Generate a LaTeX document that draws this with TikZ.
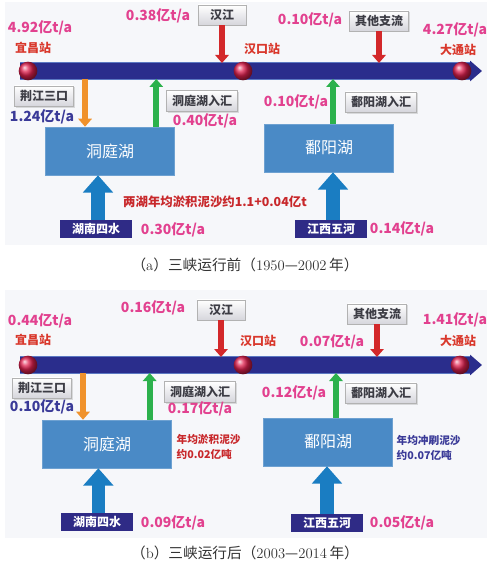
\documentclass[tikz,border=0pt]{standalone}
\usepackage{fontspec}
\usetikzlibrary{arrows.meta,calc,shadows}
\newfontfamily\cjk{Noto Sans CJK SC}
\definecolor{cPink}{HTML}{E2418F}
\definecolor{cStn}{HTML}{D9382C}
\definecolor{cBar}{HTML}{2A2D8C}
\definecolor{cBarEdge}{HTML}{5B78C2}
\definecolor{cLake}{HTML}{4A8AC6}
\definecolor{cSrc}{HTML}{2F2B86}
\definecolor{cNavyTxt}{HTML}{3A3A98}
\definecolor{cRedArr}{HTML}{D3282A}
\definecolor{cOrange}{HTML}{F0922C}
\definecolor{cGreen}{HTML}{2CB14C}
\definecolor{cBlueArr}{HTML}{1A7DC2}
\definecolor{cNote}{HTML}{C8282B}
\definecolor{cBoxTxt}{HTML}{3C3C44}
\definecolor{cPanel}{HTML}{F6F7FA}
\definecolor{cCap}{HTML}{333333}
\definecolor{cBall}{HTML}{E0204E}

\begin{document}
\begin{tikzpicture}[
  x=0.75pt, y=-0.75pt,
  font=\cjk,
  flux/.style={text=cPink, font=\cjk\bfseries\fontsize{10.5}{12}\selectfont, inner sep=1pt},
  fluxin/.style={text=cNavyTxt, font=\cjk\bfseries\fontsize{10.5}{12}\selectfont, inner sep=1pt},
  stn/.style={text=cStn, font=\cjk\bfseries\fontsize{9}{10}\selectfont, inner sep=1pt},
  tagbox/.style={rectangle, draw=gray!60, line width=0.4pt, top color=white, bottom color=blue!8!gray!30,
                 text=cBoxTxt, font=\cjk\bfseries\fontsize{9}{10}\selectfont,
                 minimum width=36pt, minimum height=14pt, inner xsep=4pt,
                 drop shadow={opacity=0.25, shadow xshift=1pt, shadow yshift=-1pt}},
  srcbox/.style={rectangle, fill=cSrc, text=white, font=\cjk\bfseries\fontsize{9}{10}\selectfont,
                 minimum width=54pt, minimum height=13.5pt, inner sep=0pt},
  lake/.style={rectangle, fill=cLake, draw=cLake!80!white, text=white,
               font=\cjk\fontsize{12}{14}\selectfont, minimum width=97pt, minimum height=36pt},
  ball/.style={circle, shading=ball, ball color=cBall, minimum size=14pt, inner sep=0pt},
  note/.style={text=cNote, font=\cjk\bfseries\fontsize{9.3}{11}\selectfont, inner sep=1pt},
  smallnote/.style={font=\cjk\bfseries\fontsize{8}{11}\selectfont, align=left, inner sep=1pt},
  captext/.style={text=cCap, font=\cjk\fontsize{11}{13}\selectfont},
  bar/.style={line width=12pt, draw=cBar, -{Triangle[length=9pt,width=15pt]}},
  thinarr/.style={line width=4.5pt, draw=#1, -{Triangle[length=6pt,width=10pt]}},
  bigarr/.style={line width=10pt, draw=cBlueArr, -{Triangle[length=13pt,width=22pt]}},
]
\useasboundingbox (0,0) rectangle (492,570);

% ---------- (a) before ----------
\fill[cPanel] (5,2) rectangle (487,245);
\coordinate (barLA) at (20,71);
\coordinate (barRA) at (482,71);
\coordinate (barTopA) at (0,63);
\coordinate (barBotA) at (0,79);
\draw[line width=13.5pt, cBarEdge] (barLA) -- ($(barRA)+(-12,0)$);
\draw[bar] (barLA) -- (barRA);
\node[ball] (ycA) at (28,71) {};
\node[ball] (hkA) at (243,71) {};
\node[ball] (dtA) at (462,71) {};

\node[flux] (fYcA) at (40,28) {4.92亿t/a};
\node[stn] (sYcA) at (33,48) {宜昌站};
\node[flux] (fHjA) at (158,16) {0.38亿t/a};
\node[tagbox] (hjA) at (222,15) {汉江};
\node[stn] (sHkA) at (262,49) {汉口站};
\node[flux] (fOtA) at (310,20) {0.10亿t/a};
\node[tagbox] (otA) at (379,21) {其他支流};
\node[flux] (fDtA) at (455,30) {4.27亿t/a};
\node[stn] (sDtA) at (458,50) {大通站};

\node[tagbox] (jjA) at (44,96) {荆江三口};
\node[fluxin] (fJjA) at (42,117) {1.24亿t/a};
\node[tagbox] (dtinA) at (202,101) {洞庭湖入汇};
\node[flux] (fDtinA) at (205,121) {0.40亿t/a};
\node[flux] (fPyinA) at (296,102) {0.10亿t/a};
\node[tagbox] (pyinA) at (381,102) {鄱阳湖入汇};

\node[lake] (lakeDA) at (110,151) {洞庭湖};
\node[lake] (lakePA) at (329,148) {鄱阳湖};
\node[note] (noteA) at (215,202) {两湖年均淤积泥沙约1.1+0.04亿t};

\node[srcbox] (srcDA) at (96,229) {湖南四水};
\node[flux] (fSrcDA) at (173,230) {0.30亿t/a};
\node[srcbox] (srcPA) at (331,229) {江西五河};
\node[flux] (fSrcPA) at (402,229) {0.14亿t/a};

\node[captext] (capA) at (245,265)
  {（{\rmfamily a}）三峡运行前（{\rmfamily 1950}—{\rmfamily 2002}\,年）};

% arrows (a)
\draw[thinarr=cRedArr] (hjA.south) -- (hjA.south |- barTopA);
\draw[thinarr=cRedArr] (otA.south) -- (otA.south |- barTopA);
\draw[thinarr=cOrange] ([xshift=30pt]lakeDA.north west |- barBotA) -- ([xshift=30pt]lakeDA.north west);
\draw[thinarr=cGreen] ([xshift=-14pt]lakeDA.north east) -- ([xshift=-14pt]lakeDA.north east |- barBotA);
\draw[thinarr=cGreen] ([xshift=3pt]lakePA.north) -- ([xshift=3pt]lakePA.north |- barBotA);
\draw[bigarr] ([xshift=1.5pt]srcDA.north) -- ([xshift=1.5pt]srcDA.north |- lakeDA.south);
\draw[bigarr] ([xshift=1.5pt]srcPA.north) -- ([xshift=1.5pt]srcPA.north |- lakePA.south);

% ---------- (b) after ----------
\fill[cPanel] (5,290) rectangle (487,538);
\coordinate (barLB) at (20,365);
\coordinate (barRB) at (482,365);
\coordinate (barTopB) at (0,357);
\coordinate (barBotB) at (0,373);
\draw[line width=13.5pt, cBarEdge] (barLB) -- ($(barRB)+(-12,0)$);
\draw[bar] (barLB) -- (barRB);
\node[ball] (ycB) at (28,365) {};
\node[ball] (hkB) at (243,365) {};
\node[ball] (dtB) at (460,365) {};

\node[flux] (fYcB) at (40,321) {0.44亿t/a};
\node[stn] (sYcB) at (33,340) {宜昌站};
\node[flux] (fHjB) at (153,308) {0.16亿t/a};
\node[tagbox] (hjB) at (221,310) {汉江};
\node[stn] (sHkB) at (258,341) {汉口站};
\node[tagbox] (otB) at (377,314) {其他支流};
\node[flux] (fOtB) at (332,342) {0.07亿t/a};
\node[flux] (fDtB) at (455,320) {1.41亿t/a};
\node[stn] (sDtB) at (458,341) {大通站};

\node[tagbox] (jjB) at (42,388) {荆江三口};
\node[fluxin] (fJjB) at (42,407) {0.10亿t/a};
\node[tagbox] (dtinB) at (200,392) {洞庭湖入汇};
\node[flux] (fDtinB) at (200,409) {0.17亿t/a};
\node[flux] (fPyinB) at (294,393) {0.12亿t/a};
\node[tagbox] (pyinB) at (381,393) {鄱阳湖入汇};

\node[lake] (lakeDB) at (107,444) {洞庭湖};
\node[lake] (lakePB) at (328,442) {鄱阳湖};
\node[smallnote, text=cNote, anchor=west] (noteDB) at (175,447) {年均淤积泥沙\\约0.02亿吨};
\node[smallnote, text=cNavyTxt, anchor=west] (notePB) at (395,448) {年均冲刷泥沙\\约0.07亿吨};

\node[srcbox] (srcDB) at (97,522) {湖南四水};
\node[flux] (fSrcDB) at (173,523) {0.09亿t/a};
\node[srcbox] (srcPB) at (327,523) {江西五河};
\node[flux] (fSrcPB) at (402,523) {0.05亿t/a};

\node[captext] (capB) at (245,553)
  {（{\rmfamily b}）三峡运行后（{\rmfamily 2003}—{\rmfamily 2014}\,年）};

% arrows (b)
\draw[thinarr=cRedArr] (hjB.south) -- (hjB.south |- barTopB);
\draw[thinarr=cRedArr] (otB.south) -- (otB.south |- barTopB);
\draw[thinarr=cOrange] ([xshift=-18pt]lakeDB.north |- barBotB) -- ([xshift=-18pt]lakeDB.north);
\draw[thinarr=cGreen] ([xshift=32pt]lakeDB.north |- lakeDB.north) -- ([xshift=32pt]lakeDB.north |- barBotB);
\draw[thinarr=cGreen] ([xshift=6pt]lakePB.north) -- ([xshift=6pt]lakePB.north |- barBotB);
\draw[bigarr] ([xshift=1pt]srcDB.north) -- ([xshift=1pt]srcDB.north |- lakeDB.south);
\draw[bigarr] (srcPB.north) -- (srcPB.north |- lakePB.south);

\end{tikzpicture}
\end{document}
